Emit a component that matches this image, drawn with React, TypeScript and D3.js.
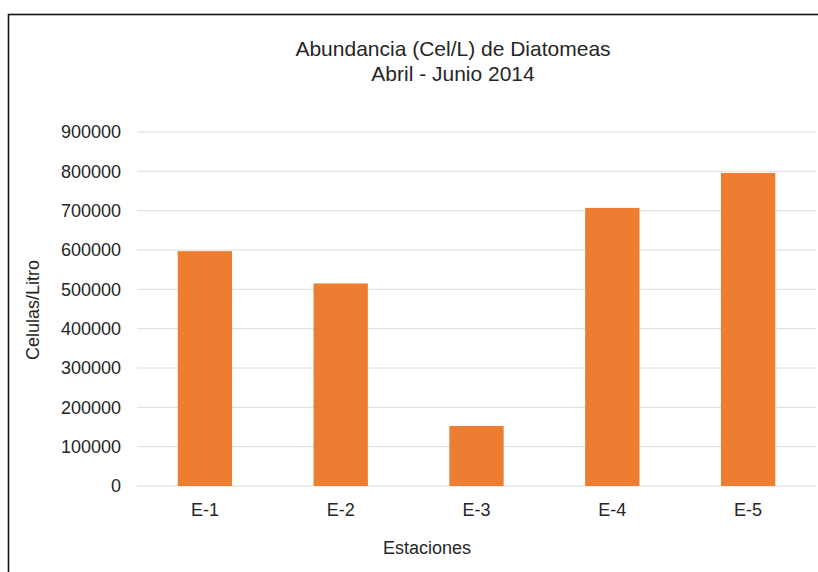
import { useEffect, useRef } from "react";
import * as d3 from "d3";

const estaciones = ["E-1", "E-2", "E-3", "E-4", "E-5"];
const celulas = [597000, 515000, 152500, 707000, 796000];
const yTicks = [0, 100000, 200000, 300000, 400000, 500000, 600000, 700000, 800000, 900000];

const titleLines = ["Abundancia (Cel/L) de Diatomeas", "Abril - Junio 2014"];

const App = () => {
  const ref = useRef<SVGSVGElement>(null);

  useEffect(() => {
    if (!ref.current) return;
    const svg = d3.select(ref.current);
    svg.selectAll("*").remove();

    const font = "Liberation Sans, Arial, sans-serif";
    const textColor = "#262626";
    const left = 137;
    const right = 816;
    const top = 132;
    const bottom = 486;

    // frame (only top and left edges are inside the window)
    svg.append("rect")
      .attr("x", 8.5)
      .attr("y", 14.5)
      .attr("width", 830)
      .attr("height", 600)
      .attr("fill", "white")
      .attr("stroke", "#111")
      .attr("stroke-width", 1.6);

    const x = d3.scaleBand().domain(estaciones).range([left, right]).paddingInner(0.6).paddingOuter(0.3);
    const y = d3.scaleLinear().domain([0, 900000]).range([bottom, top]);

    // gridlines
    svg.append("g")
      .selectAll("line")
      .data(yTicks)
      .enter()
      .append("line")
      .attr("x1", left)
      .attr("x2", right)
      .attr("y1", (d) => y(d))
      .attr("y2", (d) => y(d))
      .attr("stroke", "#dcdcdc")
      .attr("stroke-width", 1);

    // y tick labels
    svg.append("g")
      .selectAll("text")
      .data(yTicks)
      .enter()
      .append("text")
      .attr("x", 121)
      .attr("y", (d) => y(d))
      .attr("dy", "0.35em")
      .attr("text-anchor", "end")
      .attr("font-family", font)
      .attr("font-size", 18)
      .attr("fill", textColor)
      .text((d) => String(d));

    // bars
    svg.append("g")
      .selectAll("rect")
      .data(celulas)
      .enter()
      .append("rect")
      .attr("x", (_, i) => x(estaciones[i])!)
      .attr("width", x.bandwidth())
      .attr("y", (d) => y(d))
      .attr("height", (d) => bottom - y(d))
      .attr("fill", "#ED7D31");

    // x tick labels
    svg.append("g")
      .selectAll("text")
      .data(estaciones)
      .enter()
      .append("text")
      .attr("x", (d) => x(d)! + x.bandwidth() / 2)
      .attr("y", 516)
      .attr("text-anchor", "middle")
      .attr("font-family", font)
      .attr("font-size", 18)
      .attr("fill", textColor)
      .text((d) => d);

    // title
    svg.append("g")
      .selectAll("text")
      .data(titleLines)
      .enter()
      .append("text")
      .attr("x", 453)
      .attr("y", (_, i) => 56 + i * 25)
      .attr("text-anchor", "middle")
      .attr("font-family", font)
      .attr("font-size", 21)
      .attr("fill", textColor)
      .text((d) => d);

    // axis titles
    svg.append("text")
      .attr("x", 427)
      .attr("y", 554)
      .attr("text-anchor", "middle")
      .attr("font-family", font)
      .attr("font-size", 18)
      .attr("fill", textColor)
      .text("Estaciones");

    svg.append("text")
      .attr("transform", "translate(39,310) rotate(-90)")
      .attr("text-anchor", "middle")
      .attr("font-family", font)
      .attr("font-size", 18)
      .attr("fill", textColor)
      .text("Celulas/Litro");
  }, []);

  return (
    <svg
      ref={ref}
      width={818}
      height={572}
      style={{ position: "absolute", left: 0, top: 0, background: "white" }}
    />
  );
};

export default App;
